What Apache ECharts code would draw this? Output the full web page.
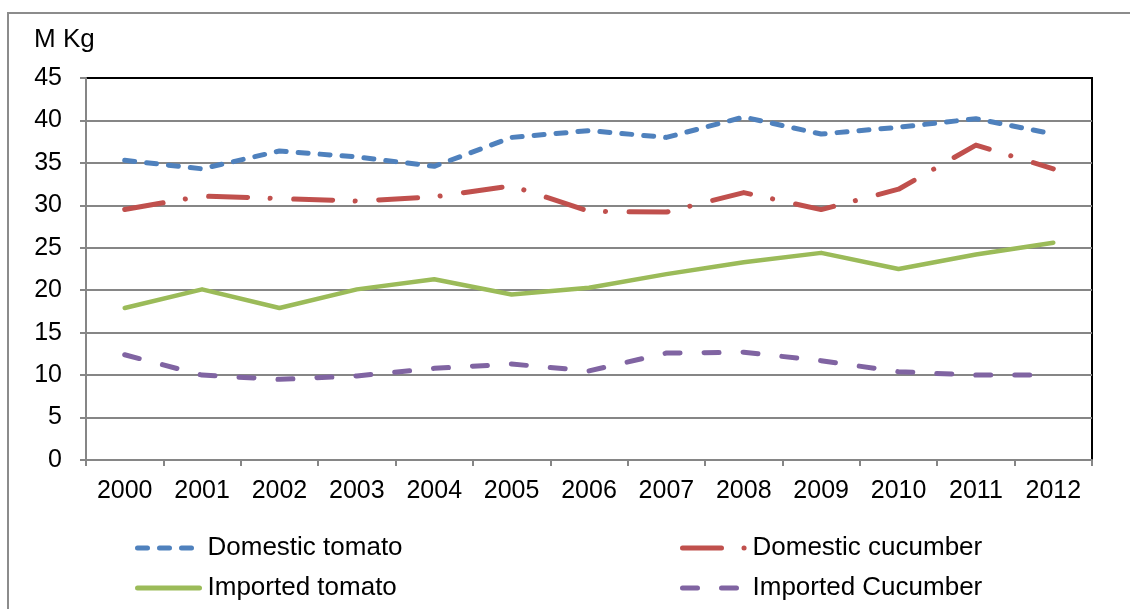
<!DOCTYPE html>
<html>
<head>
<meta charset="utf-8">
<script src="https://cdn.jsdelivr.net/npm/echarts@6/dist/echarts.min.js"></script>
<style>
html, body { margin: 0; padding: 0; background: #fff; }
#chart { width: 1130px; height: 609px; }
</style>
</head>
<body>
<div id="chart"></div>
<script>
var years = ['2000', '2001', '2002', '2003', '2004', '2005', '2006', '2007', '2008', '2009', '2010', '2011', '2012'];
var domesticTomato = [35.3, 34.3, 36.4, 35.7, 34.6, 38.0, 38.8, 38.0, 40.4, 38.4, 39.2, 40.2, 38.4];
var domesticCucumber = [29.5, 31.1, 30.8, 30.5, 31.0, 32.3, 29.3, 29.2, 31.5, 29.5, 31.9, 37.1, 34.3];
var importedTomato = [17.9, 20.1, 17.9, 20.1, 21.3, 19.5, 20.3, 21.9, 23.3, 24.4, 22.5, 24.2, 25.6];
var importedCucumber = [12.4, 10.0, 9.5, 9.9, 10.8, 11.3, 10.5, 12.6, 12.7, 11.7, 10.4, 10.0, 10.0];

var font = 'Liberation Sans, Arial, sans-serif';
var fs = 25;

var myChart = echarts.init(document.getElementById('chart'));

function lineSeries(name, data, color, width, dash) {
    return {
        name: name,
        type: 'line',
        data: data,
        symbol: 'none',
        smooth: false,
        itemStyle: {color: color},
        lineStyle: {color: color, width: width, type: dash, cap: 'round', join: 'round'}
    };
}

var legendBase = {
    orient: 'vertical',
    top: 530,
    itemWidth: 62, itemHeight: 20, itemGap: 14,
    itemStyle: {opacity: 0, color: 'transparent', borderWidth: 0},
    lineStyle: {width: 5},
    textStyle: {fontSize: 26, color: '#000', fontFamily: font, padding: [0, 0, 0, 3]}
};

myChart.setOption({
    animation: false,
    backgroundColor: '#fff',
    textStyle: {fontFamily: font},
    grid: {
        left: 86, right: 38, top: 78, bottom: 149,
        show: true, borderColor: '#000', borderWidth: 2
    },
    graphic: [
        {
            type: 'rect',
            shape: {x: 8, y: 13, width: 1200, height: 700},
            style: {fill: 'none', stroke: '#8c8c8c', lineWidth: 2},
            silent: true
        },
        {
            type: 'text',
            left: 34, top: 27,
            style: {text: 'M Kg', font: '26px ' + font, fill: '#000'}
        }
    ],
    legend: [
        Object.assign({}, legendBase, {left: 130, data: ['Domestic tomato', 'Imported tomato']}),
        Object.assign({}, legendBase, {left: 675, data: ['Domestic cucumber', 'Imported Cucumber']})
    ],
    xAxis: {
        type: 'category',
        data: years,
        boundaryGap: true,
        axisLine: {lineStyle: {color: '#868686', width: 2}},
        axisTick: {show: true, length: 6, lineStyle: {color: '#868686', width: 2}},
        axisLabel: {fontSize: fs, color: '#000', margin: 19, fontFamily: font}
    },
    yAxis: {
        type: 'value',
        min: 0, max: 45, interval: 5,
        axisLine: {show: true, lineStyle: {color: '#868686', width: 2}},
        axisTick: {show: true, length: 6, lineStyle: {color: '#868686', width: 2}},
        axisLabel: {fontSize: fs, color: '#000', margin: 24, fontFamily: font},
        splitLine: {showMaxLine: false, lineStyle: {color: '#868686', width: 2}}
    },
    series: [
        lineSeries('Domestic tomato', domesticTomato, '#4F81BD', 5, [10, 12]),
        lineSeries('Domestic cucumber', domesticCucumber, '#C0504D', 5, [39, 22.5, 0.1, 23.5]),
        lineSeries('Imported tomato', importedTomato, '#9BBB59', 4.5, 'solid'),
        lineSeries('Imported Cucumber', importedCucumber, '#8064A2', 5, [15, 24])
    ]
});
</script>
</body>
</html>
